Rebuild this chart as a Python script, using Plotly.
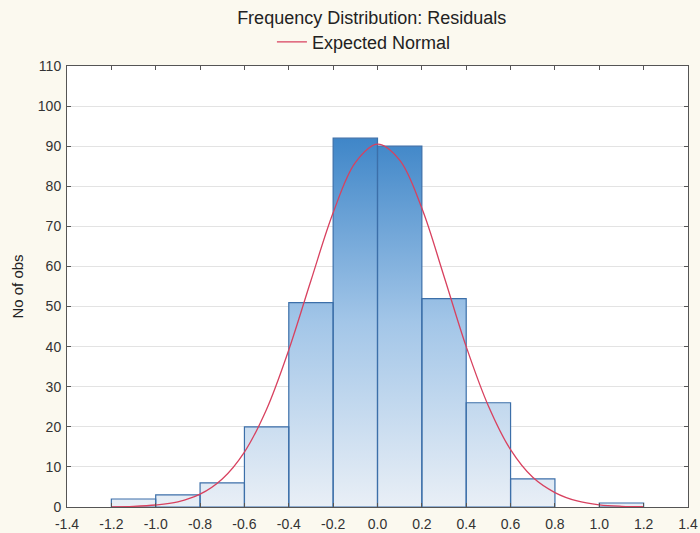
import plotly.graph_objects as go

# ---- data ----
bin_lefts = [-1.2, -1.0, -0.8, -0.6, -0.4, -0.2, 0.0, 0.2, 0.4, 0.6, 0.8, 1.0]
counts = [2, 3, 6, 20, 51, 92, 90, 52, 26, 7, 0, 1]
bin_width = 0.2

curve_x = [-1.2, -1.1, -1.0, -0.9, -0.8, -0.7, -0.6, -0.5, -0.4, -0.3, -0.2, -0.1,
           0.0, 0.1, 0.2, 0.3, 0.4, 0.5, 0.6, 0.7, 0.8, 0.9, 1.0, 1.1, 1.2]
curve_y = [0.05, 0.16, 0.5, 1.3, 3.2, 7.0, 13.7, 24.4, 39.2, 56.5, 73.4, 85.9,
           90.5, 86.5, 74.5, 57.5, 40.0, 25.2, 14.3, 7.4, 3.6, 1.5, 0.55, 0.18, 0.06]

x_tickvals = [-1.4, -1.2, -1.0, -0.8, -0.6, -0.4, -0.2, 0.0, 0.2, 0.4, 0.6, 0.8, 1.0, 1.2, 1.4]
x_ticktext = ["-1.4", "-1.2", "-1.0", "-0.8", "-0.6", "-0.4", "-0.2", "0.0",
              "0.2", "0.4", "0.6", "0.8", "1.0", "1.2", "1.4"]

title_text = "Frequency Distribution: Residuals"
curve_name = "Expected Normal"
y_title = "No of obs"

FONT = "Liberation Sans, Arial, sans-serif"

# ---- bar polygons (gradient fill) built from bins ----
px, py = [], []
for left, c in zip(bin_lefts, counts):
    if c <= 0:
        continue
    right = left + bin_width
    px += [left, left, right, right, left, None]
    py += [0, c, c, 0, 0, None]

fig = go.Figure()
fig.add_trace(go.Scatter(
    x=px, y=py, mode="lines", fill="toself",
    line=dict(color="#3c6fa9", width=1.2),
    fillgradient=dict(type="vertical",
                      colorscale=[[0, "#e9eff6"], [0.5, "#a3c6e8"], [1, "#3f86c8"]],
                      start=0, stop=92),
    showlegend=False, hoverinfo="skip"))

fig.add_trace(go.Scatter(
    x=curve_x, y=curve_y, mode="lines", name=curve_name,
    line=dict(color="#d8415f", width=1.3), line_shape="spline"))

fig.update_layout(
    width=700, height=533,
    margin=dict(l=67, r=12, t=66, b=26, autoexpand=False),
    paper_bgcolor="#fbf9ef", plot_bgcolor="#ffffff",
    font=dict(family=FONT, size=14, color="#333333"),
    title=dict(text=title_text, x=0.531, xanchor="center", y=0.966, yanchor="middle",
               font=dict(family=FONT, size=18, color="#222222")),
    showlegend=True,
    legend=dict(orientation="h", x=0.330, xanchor="left", y=1.054, yanchor="middle",
                bgcolor="rgba(0,0,0,0)", font=dict(family=FONT, size=18, color="#222222")),
    xaxis=dict(range=[-1.4, 1.4], tickvals=x_tickvals, ticktext=x_ticktext,
               showgrid=False, zeroline=False, showline=True, linecolor="#555555",
               linewidth=1, mirror="ticks", ticks="inside", ticklen=4, tickcolor="#555555",
               tickfont=dict(size=14, color="#333333"), automargin=False,
               ticklabelstandoff=4),
    yaxis=dict(range=[0, 110], dtick=10, showgrid=True, gridcolor="#e3e3e3",
               zeroline=False, showline=True, linecolor="#555555", linewidth=1,
               mirror="ticks", ticks="inside", ticklen=4, tickcolor="#555555",
               tickfont=dict(size=14, color="#333333"), automargin=False,
               ticklabelstandoff=2,
               title=dict(text=y_title, font=dict(size=15, color="#222222"), standoff=10)),
)

fig.write_html("out.html")
